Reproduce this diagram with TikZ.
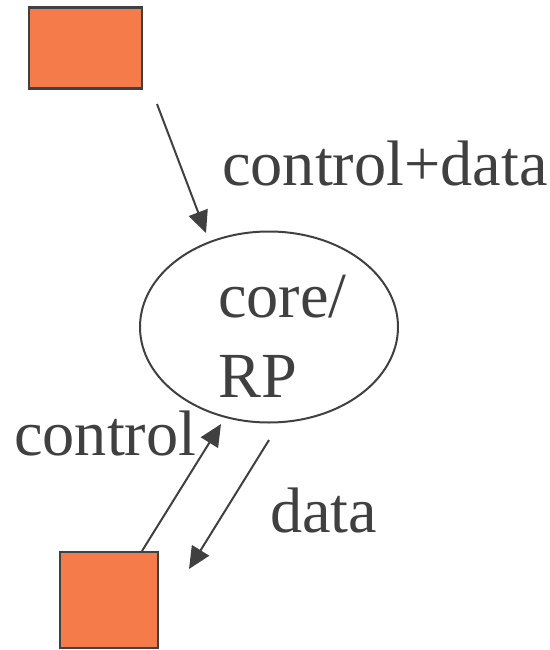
\documentclass[tikz,border=0pt]{standalone}
\usepackage{fontspec}
\setmainfont{Liberation Serif}
\usetikzlibrary{arrows.meta,shapes.geometric}
\definecolor{ink}{HTML}{404040}
\definecolor{box}{HTML}{F57C4A}
\tikzset{
  unit/.style={draw=ink, line width=2.6pt, fill=box, inner sep=0pt},
  label/.style={text=ink, inner sep=0pt, anchor=base west, font=\fontsize{64.3}{70}\selectfont},
  flow/.style={draw=ink, line width=2pt, -{Triangle[length=22pt,width=20pt]}},
}
\begin{document}
\begin{tikzpicture}[x=1pt,y=-1pt]
\useasboundingbox (0,0) rectangle (549,650);
% units
\node[unit, minimum width=113pt, minimum height=81pt] (src) at (85.5,48) {};
\node[unit, minimum width=98pt, minimum height=96pt] (sink) at (109,600) {};
% core / RP
\node[ellipse, draw=ink, line width=2pt, minimum width=258pt, minimum height=191pt, inner sep=0pt] (core) at (269,327) {};
\node[label] (t1) at (218,317) {core/};
\node[label] (t2) at (218,397) {RP};
% connector end points
\coordinate (a1) at (157,104);
\coordinate (a2) at (206,233);
\coordinate (c1) at (142,551);
\coordinate (c2) at (221,424);
\coordinate (d1) at (269,440);
\coordinate (d2) at (189,569);
\draw[flow] (a1) -- (a2);
\draw[flow] (c1) -- (c2);
\draw[flow] (d1) -- (d2);
% labels
\node[label] (l1) at (222,185) {control+data};
\node[label] (l2) at (14,455) {control};
\node[label] (l3) at (270,532) {data};
\end{tikzpicture}
\end{document}
